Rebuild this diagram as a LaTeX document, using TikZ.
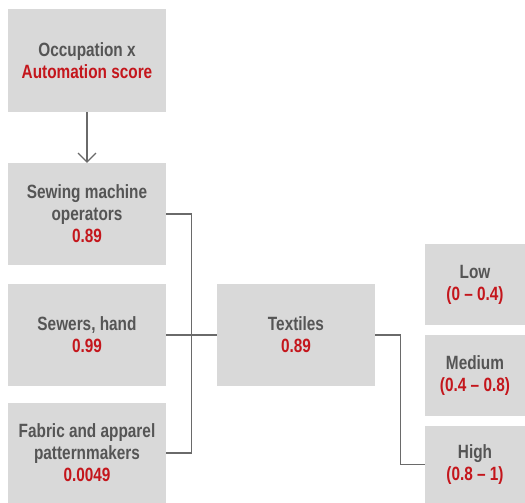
\documentclass[tikz,border=0pt]{standalone}
\usepackage{fontspec}
\setmainfont{Liberation Sans}[FakeStretch=0.8]
\usetikzlibrary{arrows.meta}
\definecolor{boxgray}{HTML}{D9D9D9}
\definecolor{txtgray}{HTML}{555555}
\definecolor{valred}{HTML}{C4161C}
\definecolor{linegray}{HTML}{6A6A6A}
\newcommand{\val}[1]{{\color{valred}#1}}

\begin{document}
\begin{tikzpicture}[
  x=1pt,y=-1pt,
  >={Straight Barb[length=9pt,width=18pt]},
  every node/.style={font=\fontsize{19.2}{22}\selectfont\bfseries,text=txtgray,align=center},
  box/.style={fill=boxgray,minimum width=158pt,minimum height=102pt,inner sep=0pt},
  band/.style={fill=boxgray,minimum width=100pt,minimum height=81pt,inner sep=0pt},
  link/.style={draw=linegray,line width=1.1pt}
]
\useasboundingbox (0,0) rectangle (525,503);
% left column
\node[box,minimum height=103pt] (occ) at (87,60.5) {Occupation x\\\val{Automation score}};
\node[box] (sewop) at (87,214) {Sewing machine\\operators\\\val{0.89}};
\node[box] (sewhand) at (87,335) {Sewers, hand\\\val{0.99}};
\node[box,minimum height=100pt] (fabric) at (87,453) {Fabric and apparel\\patternmakers\\\val{0.0049}};
% sector
\node[box] (textiles) at (296,335) {Textiles\\\val{0.89}};
% risk bands
\node[band] (low) at (475,284.5) {Low\\\val{(0 -- 0.4)}};
\node[band] (medium) at (475,375.5) {Medium\\\val{(0.4 -- 0.8)}};
\node[band,minimum height=77pt] (high) at (475,464.5) {High\\\val{(0.8 -- 1)}};

\draw[link,->] (occ.south) -- (sewop.north);
\draw[link] (sewop.east) -- ++(25,0) |- (fabric.east);
\draw[link] (sewhand.east) -- (textiles.west);
\draw[link] (textiles.east) -- ++(25,0) |- (high.west);
\end{tikzpicture}
\end{document}
